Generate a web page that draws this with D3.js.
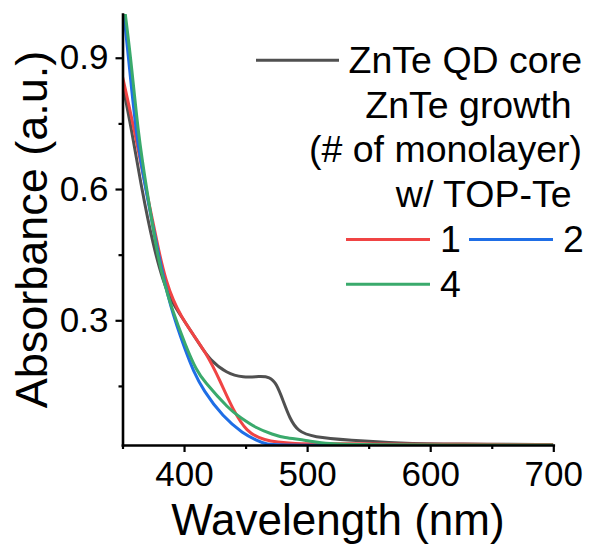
<!DOCTYPE html>
<html lang="en">
<head>
    <meta charset="UTF-8">
    <title>ZnTe absorbance</title>
    <script src="https://d3js.org/d3.v7.min.js"></script>
    <style>
        body {
            margin: 0;
            padding: 0;
            background: #fff;
        }
        text {
            font-family: "Liberation Sans", Arial, sans-serif;
            fill: #000;
        }
        .curve {
            fill: none;
            stroke-width: 3;
            stroke-linejoin: round;
        }
    </style>
</head>
<body>
    <svg width="590" height="544"></svg>
    <script>
        // Absorbance spectra (wavelength in nm, absorbance a.u.)
        const coreWl  = [350, 357.5, 365.6, 375, 383.1, 390.1, 398, 405, 412.8, 420.9, 434.5, 448, 461.5, 469.6, 475, 480.4, 485.8, 492.5, 504.7, 534.5, 575, 620, 700];
        const coreAbs = [0.84, 0.734, 0.600, 0.470, 0.388, 0.342, 0.308, 0.278, 0.244, 0.210, 0.179, 0.169, 0.172, 0.171, 0.156, 0.117, 0.076, 0.046, 0.033, 0.026, 0.019, 0.017, 0.016];

        const ml1Wl  = [350, 359.6, 369.1, 380.4, 385.3, 391.2, 398, 404.7, 418.3, 429.1, 439.8, 450.7, 464.2, 485.8, 534.5, 575, 700];
        const ml1Abs = [0.857, 0.736, 0.600, 0.445, 0.392, 0.345, 0.308, 0.278, 0.224, 0.163, 0.095, 0.045, 0.026, 0.017, 0.018, 0.017, 0.016];

        const ml2Wl  = [350, 354.9, 361, 368.8, 378.5, 388.5, 402, 407.4, 415.5, 431.7, 448, 458.8, 466.9, 480, 700];
        const ml2Abs = [1.03, 0.90, 0.724, 0.600, 0.460, 0.331, 0.224, 0.186, 0.140, 0.079, 0.041, 0.026, 0.016, 0.014, 0.014];

        const ml4Wl  = [350, 356.8, 362.8, 369.6, 379, 384.1, 388.5, 402, 410.2, 415.5, 437.2, 445.3, 458.8, 472.3, 480.4, 499.4, 515.6, 550, 700];
        const ml4Abs = [1.05, 0.90, 0.724, 0.600, 0.438, 0.385, 0.339, 0.236, 0.186, 0.163, 0.095, 0.079, 0.053, 0.039, 0.032, 0.026, 0.017, 0.015, 0.015];

        const seriesNames  = ["ZnTe QD core", "1", "2", "4"];
        const seriesColors = ["#505050", "#f04444", "#1f6ee6", "#3aaa6c"];

        const xMajor = [400, 500, 600, 700];
        const xMinor = [350, 450, 550, 650];
        const yMajor = [0.3, 0.6, 0.9];
        const yMinor = [0.15, 0.45, 0.75];

        const legendHeader = ["ZnTe growth ", "(# of monolayer)", "w/ TOP-Te "];

        const svg = d3.select("svg");

        const x = d3.scaleLinear().domain([350, 700]).range([122.5, 553.3]);
        const y = d3.scaleLinear().domain([0.015, 1.0]).range([445, 14]);

        // clip the curves to the plot area
        svg.append("defs").append("clipPath")
            .attr("id", "plot-clip")
            .append("rect")
            .attr("x", x.range()[0])
            .attr("y", y.range()[1])
            .attr("width", x.range()[1] - x.range()[0])
            .attr("height", y.range()[0] - y.range()[1]);

        const series = [
            { wl: coreWl, abs: coreAbs },
            { wl: ml1Wl, abs: ml1Abs },
            { wl: ml2Wl, abs: ml2Abs },
            { wl: ml4Wl, abs: ml4Abs }
        ].map((s, i) => ({
            name: seriesNames[i],
            color: seriesColors[i],
            points: s.wl.map((w, j) => [w, s.abs[j]])
        }));

        // basis spline smooths out the reading noise of the points
        const line = d3.line()
            .x(d => x(d[0]))
            .y(d => y(d[1]))
            .curve(d3.curveBasis);

        svg.append("g")
            .attr("clip-path", "url(#plot-clip)")
            .selectAll("path")
            .data(series)
            .join("path")
            .attr("class", "curve")
            .attr("stroke", d => d.color)
            .attr("d", d => line(d.points));

        // axes
        svg.append("g")
            .attr("transform", `translate(0,${y.range()[0]})`)
            .call(d3.axisBottom(x).tickValues(xMajor).tickSize(7).tickSizeOuter(0).tickPadding(9)
                .tickFormat(d3.format("d")));
        svg.append("g")
            .attr("transform", `translate(0,${y.range()[0]})`)
            .call(d3.axisBottom(x).tickValues(xMinor).tickSize(4).tickSizeOuter(0).tickFormat(""))
            .select(".domain").remove();

        svg.append("g")
            .attr("transform", `translate(${x.range()[0]},0)`)
            .call(d3.axisLeft(y).tickValues(yMajor).tickSize(7).tickSizeOuter(0).tickPadding(7)
                .tickFormat(d3.format(".1f")));
        svg.append("g")
            .attr("transform", `translate(${x.range()[0]},0)`)
            .call(d3.axisLeft(y).tickValues(yMinor).tickSize(4).tickSizeOuter(0).tickFormat(""))
            .select(".domain").remove();

        svg.selectAll(".domain").attr("stroke", "#000").attr("stroke-width", 2.6).attr("stroke-linecap", "square");
        svg.selectAll(".tick line").attr("stroke", "#000").attr("stroke-width", 2.2);
        svg.selectAll(".tick text")
            .style("font-family", "'Liberation Sans', Arial, sans-serif")
            .style("font-size", "35px")
            .attr("fill", "#000");

        // axis titles
        svg.append("text")
            .attr("x", (x.range()[0] + x.range()[1]) / 2)
            .attr("y", 535)
            .attr("text-anchor", "middle")
            .style("font-size", "44px")
            .text("Wavelength (nm)");

        svg.append("text")
            .attr("transform", `translate(47,${(y.range()[0] + y.range()[1]) / 2}) rotate(-90)`)
            .attr("text-anchor", "middle")
            .style("font-size", "45px")
            .text("Absorbance (a.u.)");

        // legend
        const legend = svg.append("g").style("font-size", "37.5px");
        const lineGap = 44.8;
        const base0 = 72.7;

        legend.append("line")
            .attr("x1", 256).attr("x2", 339)
            .attr("y1", base0 - 12.5).attr("y2", base0 - 12.5)
            .attr("stroke", seriesColors[0]).attr("stroke-width", 3);
        legend.append("text")
            .attr("x", 582).attr("y", base0)
            .attr("text-anchor", "end")
            .text(seriesNames[0]);

        legendHeader.forEach((t, i) => {
            legend.append("text")
                .attr("x", 582).attr("y", base0 + lineGap * (i + 1))
                .attr("text-anchor", "end")
                .style("white-space", "pre")
                .text(t);
        });

        const items = [
            { idx: 1, x0: 346, row: 4 },
            { idx: 2, x0: 469, row: 4 },
            { idx: 3, x0: 346, row: 5 }
        ];
        items.forEach(it => {
            const by = base0 + lineGap * it.row;
            legend.append("line")
                .attr("x1", it.x0).attr("x2", it.x0 + 84)
                .attr("y1", by - 12.5).attr("y2", by - 12.5)
                .attr("stroke", seriesColors[it.idx]).attr("stroke-width", 3);
            legend.append("text")
                .attr("x", it.x0 + 94).attr("y", by)
                .text(seriesNames[it.idx]);
        });
    </script>
</body>
</html>
